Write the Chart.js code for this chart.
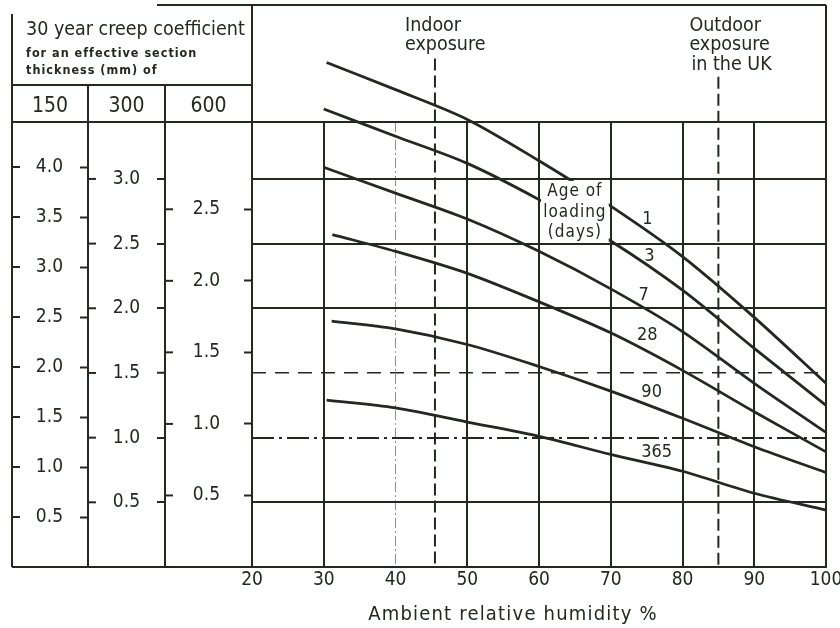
<!DOCTYPE html>
<html>
<head>
<meta charset="utf-8">
<title>30 year creep coefficient</title>
<script src="https://cdn.jsdelivr.net/npm/chart.js@4.4.1/dist/chart.umd.min.js"></script>
<style>
  html, body { margin: 0; padding: 0; background: #ffffff; }
  canvas { display: block; }
</style>
</head>
<body>
<canvas id="creep" width="840" height="628"></canvas>
<script>
// humidity axis (%)
const humidityTicks = [20, 30, 40, 50, 60, 70, 80, 90, 100];

// creep coefficient scales for 150, 300 and 600 mm sections
const ticks150 = [0.5, 1.0, 1.5, 2.0, 2.5, 3.0, 3.5, 4.0];
const ticks300 = [0.5, 1.0, 1.5, 2.0, 2.5, 3.0];
const ticks600 = [0.5, 1.0, 1.5, 2.0, 2.5];

// age of loading (days), one curve each
const ages = ['1', '3', '7', '28', '90', '365'];

// humidity where each curve starts, then the common reading points
const curveStart = [30.4, 30, 30, 31.2, 31.1, 30.4];
const humidityPoints = [40, 50, 60, 70, 80, 90, 100];

// creep coefficient on the 300 mm scale: at curveStart, then at humidityPoints
const creep1 = [3.90, 3.69, 3.46, 3.14, 2.79, 2.40, 1.93, 1.42];
const creep3 = [3.54, 3.33, 3.12, 2.84, 2.52, 2.14, 1.69, 1.25];
const creep7 = [3.09, 2.89, 2.69, 2.44, 2.15, 1.82, 1.42, 1.04];
const creep28 = [2.57, 2.44, 2.27, 2.05, 1.81, 1.52, 1.20, 0.89];
const creep90 = [1.90, 1.84, 1.72, 1.55, 1.36, 1.15, 0.93, 0.73];
const creep365 = [1.29, 1.23, 1.12, 1.01, 0.87, 0.74, 0.57, 0.44];
const curves = [creep1, creep3, creep7, creep28, creep90, creep365];

// exposure conditions (% humidity)
const indoorHumidity = 45.5;
const outdoorHumidity = 85;

const INK = '#232823';
const FAINT = '#8e928e';
const FONT = "'DejaVu Sans Condensed', 'Liberation Sans Narrow', 'DejaVu Sans', sans-serif";

function label(ctx, str, x, y, size, align, spacing, weight) {
    ctx.font = (weight || 'normal') + ' ' + size + 'px ' + FONT;
    ctx.textAlign = align || 'left';
    ctx.textBaseline = 'alphabetic';
    ctx.letterSpacing = (spacing || 0) + 'px';
    ctx.fillText(str, x, y);
}

function line(ctx, x1, y1, x2, y2) {
    ctx.beginPath();
    ctx.moveTo(x1, y1);
    ctx.lineTo(x2, y2);
    ctx.stroke();
}

// frame, left panel, notes and exposure lines
const nomogram = {
    id: 'nomogram',
    beforeDraw(chart) {
        const ctx = chart.ctx;
        ctx.save();
        ctx.fillStyle = '#ffffff';
        ctx.fillRect(0, 0, chart.width, chart.height);
        ctx.restore();
    },
    afterDraw(chart) {
        const ctx = chart.ctx;
        const area = chart.chartArea;
        const x = chart.scales.x;
        const y = chart.scales.y300;
        const cols = [chart.scales.y150, chart.scales.y300, chart.scales.y600];
        const tickSets = [ticks150, ticks300, ticks600];
        const left = cols[0].left;

        ctx.save();
        ctx.strokeStyle = INK;
        ctx.fillStyle = INK;
        ctx.lineWidth = 2;
        ctx.lineCap = 'butt';

        // outer frame
        line(ctx, 157, 5, area.right, 5);
        line(ctx, area.right, 5, area.right, area.bottom);
        line(ctx, area.left, 5, area.left, area.bottom);
        line(ctx, left, 14, left, area.bottom);
        line(ctx, left, 85, area.left, 85);
        line(ctx, left, area.top, area.right, area.top);
        line(ctx, left, area.bottom, area.left, area.bottom);
        line(ctx, cols[1].left, 85, cols[1].left, area.bottom);
        line(ctx, cols[2].left, 85, cols[2].left, area.bottom);

        // tick marks on the left side of each column
        cols.forEach((scale, i) => {
            tickSets[i].forEach(v => {
                const py = scale.getPixelForValue(v);
                line(ctx, scale.left, py, scale.left + 8, py);
            });
        });

        // header
        label(ctx, '30 year creep coefficient', 26, 35, 19.5);
        label(ctx, 'for an effective section', 26, 57, 12.5, 'left', 1, 'bold');
        label(ctx, 'thickness (mm) of', 26, 74, 12.5, 'left', 1, 'bold');
        ['150', '300', '600'].forEach((t, i) => {
            label(ctx, t, (cols[i].left + cols[i].right) / 2, 112, 21, 'center');
        });

        // note cell between 60-70 % and 3.0-2.5
        const cx1 = x.getPixelForValue(60) + 2;
        const cx2 = x.getPixelForValue(70) - 2;
        const cy1 = y.getPixelForValue(3.0) + 2;
        const cy2 = y.getPixelForValue(2.5) - 2;
        ctx.fillStyle = '#ffffff';
        ctx.fillRect(cx1, cy1, cx2 - cx1, cy2 - cy1);
        ctx.fillStyle = INK;
        const cmid = (cx1 + cx2) / 2;
        label(ctx, 'Age of', cmid, cy1 + 15, 17, 'center', 1);
        label(ctx, 'loading', cmid, cy1 + 36, 17, 'center', 1);
        label(ctx, '(days)', cmid, cy1 + 56, 17, 'center', 1);

        // curve labels
        const labelAt = [[75.1, 2.69], [75.4, 2.40], [74.6, 2.10], [75.1, 1.79], [75.7, 1.35], [76.4, 0.89]];
        ctx.font = '18px ' + FONT;
        ctx.textAlign = 'center';
        ctx.textBaseline = 'middle';
        ctx.letterSpacing = '0px';
        ages.forEach((age, i) => {
            ctx.fillText(age, x.getPixelForValue(labelAt[i][0]), y.getPixelForValue(labelAt[i][1]));
        });

        // exposure lines
        ctx.setLineDash([12, 5]);
        const ix = x.getPixelForValue(indoorHumidity);
        const ox = x.getPixelForValue(outdoorHumidity);
        line(ctx, ix, y.getPixelForValue(3.93), ix, area.bottom);
        line(ctx, ox, y.getPixelForValue(3.79), ox, area.bottom);
        ctx.setLineDash([]);
        label(ctx, 'Indoor', ix - 30, 31, 19.5);
        label(ctx, 'exposure', ix - 30, 50, 19.5);
        label(ctx, 'Outdoor', ox - 29, 31, 19.5);
        label(ctx, 'exposure', ox - 29, 50, 19.5);
        label(ctx, 'in the UK', ox - 27, 70, 19.5);

        // x axis title
        label(ctx, 'Ambient relative humidity %', 513, 620, 20, 'center', 1.2);
        ctx.restore();
    }
};

function sideAxis(ticks, max, weight, width, pad) {
    return {
        type: 'linear',
        position: 'left',
        weight: weight,
        min: 0,
        max: max,
        afterBuildTicks: s => { s.ticks = ticks.map(v => ({ value: v })); },
        afterFit: s => { s.width = width; s.paddingTop = 0; s.paddingBottom = 0; },
        grid: { drawOnChartArea: false, drawTicks: true, tickLength: 8, tickWidth: 2, tickColor: INK },
        border: { display: false },
        ticks: {
            crossAlign: 'center',
            padding: pad,
            color: INK,
            font: { family: FONT, size: 19 },
            callback: v => v.toFixed(1)
        }
    };
}

const y300 = sideAxis(ticks300, 3.44, 2, 77, 17);
y300.grid = {
    drawOnChartArea: true,
    drawTicks: true,
    tickLength: 8,
    tickWidth: 2,
    tickColor: INK,
    tickBorderDash: [],
    color: INK,
    lineWidth: c => (c.tick && c.tick.value === 1.5 ? 1.5 : 2)
};
y300.border = {
    display: false,
    dash: c => {
        if (!c.tick) return [];
        if (c.tick.value === 1.5) return [14, 9];
        if (c.tick.value === 1.0) return [22, 5, 3, 5];
        return [];
    }
};

new Chart(document.getElementById('creep'), {
    type: 'line',
    data: {
        datasets: ages.map((age, i) => ({
            label: age,
            data: [curveStart[i]].concat(humidityPoints).map((h, j) => ({ x: h, y: curves[i][j] })),
            yAxisID: 'y300',
            borderColor: INK,
            borderWidth: 2.8,
            pointRadius: 0,
            tension: 0.3,
            clip: false
        }))
    },
    options: {
        responsive: false,
        animation: false,
        devicePixelRatio: 1,
        layout: { padding: { top: 122, left: 12, right: 14, bottom: 0 } },
        plugins: {
            legend: { display: false },
            tooltip: { enabled: false }
        },
        scales: {
            x: {
                type: 'linear',
                min: 20,
                max: 100,
                afterBuildTicks: s => { s.ticks = humidityTicks.map(v => ({ value: v })); },
                afterFit: s => { s.height = 61; s.paddingLeft = 0; s.paddingRight = 0; },
                grid: {
                    drawTicks: false,
                    color: c => (c.tick && c.tick.value === 40 ? FAINT : INK),
                    lineWidth: c => (c.tick && c.tick.value === 40 ? 1 : 2)
                },
                border: {
                    display: true,
                    color: INK,
                    width: 2,
                    dash: c => (c.tick && c.tick.value === 40 ? [10, 3, 2, 3] : [])
                },
                ticks: {
                    padding: 2,
                    color: INK,
                    font: { family: FONT, size: 19 },
                    callback: v => String(v)
                }
            },
            y150: sideAxis(ticks150, 4.45, 3, 76, 17),
            y300: y300,
            y600: sideAxis(ticks600, 3.11, 1, 87, 24)
        }
    },
    plugins: [nomogram]
});
</script>
</body>
</html>
